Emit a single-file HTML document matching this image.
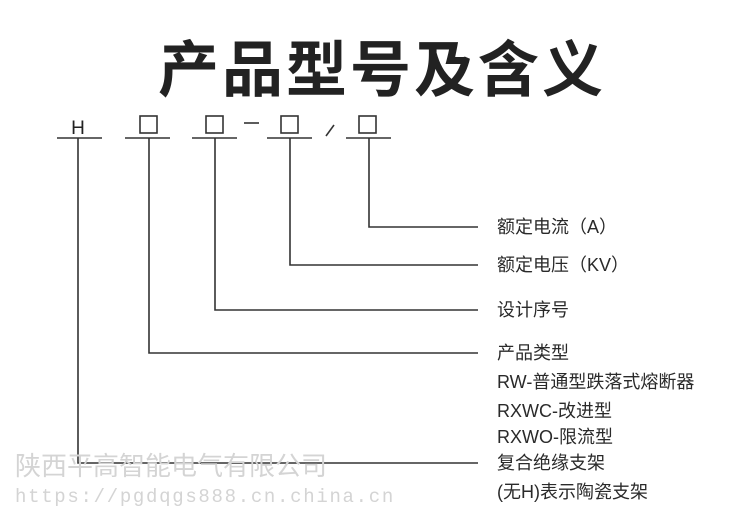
<!DOCTYPE html>
<html><head><meta charset="utf-8"><style>
body{margin:0;width:750px;height:526px;background:#fff;position:relative;overflow:hidden;font-family:"Liberation Sans","Noto Sans CJK SC",sans-serif;}
.t{position:absolute;color:#2a2a2a;font-size:18px;line-height:18px;white-space:nowrap;}
</style></head><body>
<div style="position:absolute;left:158px;top:30px;font-size:61px;line-height:70px;font-weight:bold;letter-spacing:3px;color:#222;font-family:'Noto Sans CJK SC',sans-serif;white-space:nowrap;">产品型号及含义</div>
<svg width="750" height="526" style="position:absolute;left:0;top:0" stroke="#333" stroke-width="1.6" fill="none">
<line x1="57" y1="138" x2="102" y2="138"/><line x1="125" y1="138" x2="170" y2="138"/>
<line x1="192" y1="138" x2="237" y2="138"/><line x1="267" y1="138" x2="312" y2="138"/>
<line x1="346" y1="138" x2="391" y2="138"/>
<polyline points="369,138 369,227 478,227"/>
<polyline points="290,138 290,265 478,265"/>
<polyline points="215,138 215,310 478,310"/>
<polyline points="149,138 149,353 478,353"/>
<polyline points="78,138 78,463 478,463"/>
<rect x="140" y="116" width="17" height="17"/><rect x="206" y="116" width="17" height="17"/>
<rect x="281" y="116" width="17" height="17"/><rect x="359" y="116" width="17" height="17"/>
<line x1="244" y1="123" x2="259" y2="123"/><line x1="326" y1="136" x2="334" y2="125"/>
<text x="78" y="134" font-size="19" fill="#222" stroke="none" text-anchor="middle" font-family="Liberation Sans">H</text>
</svg>
<div class="t" style="left:497px;top:218px">额定电流（A）</div>
<div class="t" style="left:497px;top:256px">额定电压（KV）</div>
<div class="t" style="left:497px;top:301px">设计序号</div>
<div class="t" style="left:497px;top:344px">产品类型</div>
<div class="t" style="left:497px;top:373px">RW-普通型跌落式熔断器</div>
<div class="t" style="left:497px;top:402px">RXWC-改进型</div>
<div class="t" style="left:497px;top:428px">RXWO-限流型</div>
<div class="t" style="left:497px;top:454px">复合绝缘支架</div>
<div class="t" style="left:497px;top:483px">(无H)表示陶瓷支架</div>
<div style="position:absolute;left:15px;top:450px;font-size:26px;line-height:30px;color:#d4d4d4;white-space:nowrap;font-family:'Noto Sans CJK SC',sans-serif;">陕西平高智能电气有限公司</div>
<div style="position:absolute;left:15px;top:485px;font-size:19px;line-height:24px;color:#d4d4d4;white-space:nowrap;font-family:'Liberation Mono',monospace;letter-spacing:1.7px;">https://pgdqgs888.cn.china.cn</div>
</body></html>
